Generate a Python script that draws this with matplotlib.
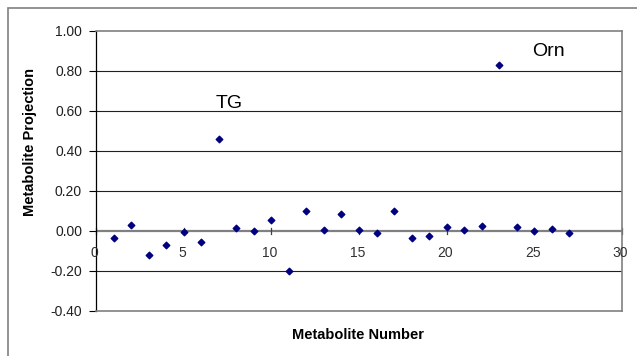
import matplotlib.pyplot as plt
import numpy as np
from matplotlib.patches import Rectangle

plt.rcParams['font.family'] = ['Liberation Sans', 'DejaVu Sans']

metabolite_number = np.arange(1, 28)
projection = [-0.037, 0.03, -0.118, -0.072, -0.005, -0.055, 0.46, 0.013, -0.002, 0.057,
              -0.20, 0.098, 0.003, 0.085, 0.003, -0.008, 0.10, -0.033, -0.023, 0.02,
              0.003, 0.023, 0.83, 0.018, 0.002, 0.008, -0.008]
x_ticks = [0, 5, 10, 15, 20, 25, 30]
y_ticks = [-0.4, -0.2, 0.0, 0.2, 0.4, 0.6, 0.8, 1.0]

fig = plt.figure(figsize=(6.37, 3.56), dpi=100)
ax = fig.add_axes([96/637, 1 - 311/356, (622 - 96)/637, (311 - 31)/356])

# outer chart border (right and bottom edges fall outside the picture)
fig.patches.append(Rectangle((8/637, -0.05), 1.1, 1 - 8/356 + 0.05,
                             transform=fig.transFigure, fill=False,
                             edgecolor='#808080', linewidth=1.2))

ax.set_xlim(0, 30)
ax.set_ylim(-0.4, 1.0)
for y in y_ticks[1:-1]:
    if y != 0:
        ax.axhline(y, color='#202020', linewidth=0.8, zorder=1)
ax.axhline(0, color='#808080', linewidth=1.6, zorder=1)

ax.scatter(metabolite_number, projection, marker='D', s=11, color='#000080', zorder=3)

for s in ['top', 'right', 'bottom']:
    ax.spines[s].set_color('#808080')
    ax.spines[s].set_linewidth(1.2)
ax.spines['left'].set_color('black')
ax.spines['left'].set_linewidth(0.9)

ax.set_yticks(y_ticks)
ax.set_yticklabels(['%.2f' % v for v in y_ticks], fontsize=10, color='#202020')
ax.tick_params(axis='y', length=5, width=0.8, direction='out', pad=5)

ax.set_xticks(x_ticks)
ax.set_xticklabels([])
ax.tick_params(axis='x', length=0)
for xt in x_ticks:
    ax.plot([xt, xt], [-0.015, 0.015], color='#404040', linewidth=0.9, zorder=2, clip_on=False)
    ax.text(xt - 0.1, -0.108, str(xt), ha='center', va='center', fontsize=10, color='#303030')

ax.text(7.6, 0.635, 'TG', ha='center', va='center', fontsize=14)
ax.text(25.8, 0.895, 'Orn', ha='center', va='center', fontsize=14)

fig.text(30/637, 1 - 142/356, 'Metabolite Projection', rotation=90, ha='center', va='center',
         fontsize=10.5, fontweight='bold')
fig.text(358/637, 1 - 335/356, 'Metabolite Number', ha='center', va='center',
         fontsize=10.5, fontweight='bold')

fig.savefig('out.png', dpi=100)
